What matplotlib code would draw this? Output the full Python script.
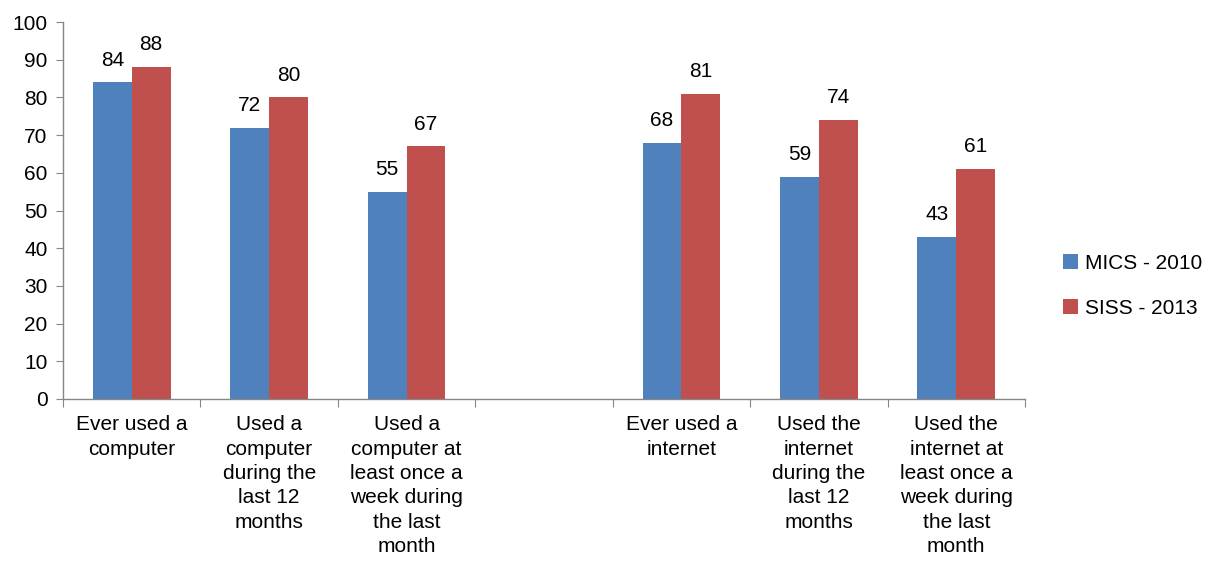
import matplotlib
matplotlib.use("Agg")
import matplotlib.pyplot as plt
import numpy as np
from matplotlib.patches import Patch

plt.rcParams['font.family'] = ['Liberation Sans', 'DejaVu Sans']

categories = [
    "Ever used a\ncomputer",
    "Used a\ncomputer\nduring the\nlast 12\nmonths",
    "Used a\ncomputer at\nleast once a\nweek during\nthe last\nmonth",
    "",
    "Ever used a\ninternet",
    "Used the\ninternet\nduring the\nlast 12\nmonths",
    "Used the\ninternet at\nleast once a\nweek during\nthe last\nmonth",
]
mics_2010 = [84, 72, 55, None, 68, 59, 43]
siss_2013 = [88, 80, 67, None, 81, 74, 61]
series_names = ["MICS - 2010", "SISS - 2013"]
colors = ["#4F81BD", "#C0504D"]

FS = 15

fig = plt.figure(figsize=(12.13, 5.62), dpi=100)
ax = fig.add_axes([63 / 1213, 1 - 399 / 562, (1025 - 63) / 1213, (399 - 22) / 562])

n = len(categories)
x = np.arange(n) + 0.5
w = 0.283
for i, (vals, col) in enumerate(zip([mics_2010, siss_2013], colors)):
    offs = (i - 0.5) * w
    for xi, v in zip(x, vals):
        if v is None:
            continue
        ax.bar(xi + offs, v, width=w, color=col, edgecolor='none')
        ax.text(xi + offs, v + 3.4, f"{v}", ha='center', va='bottom', fontsize=FS)

ax.set_xlim(0, n)
ax.set_ylim(0, 100)
ax.set_yticks(np.arange(0, 101, 10))
ax.tick_params(axis='y', labelsize=FS, length=5, color='#868686', pad=6)

# category boundary ticks
ax.set_xticks(np.arange(0, n + 1))
ax.set_xticklabels([])
ax.tick_params(axis='x', length=6, color='#868686', direction='out')
for xi, lab in zip(x, categories):
    ax.text(xi, -4.3, lab, ha='center', va='top', fontsize=FS, linespacing=1.36,
            transform=ax.transData)

for s in ['top', 'right']:
    ax.spines[s].set_visible(False)
for s in ['left', 'bottom']:
    ax.spines[s].set_color('#868686')
    ax.spines[s].set_linewidth(1.0)

handles = [Patch(facecolor=c, edgecolor='none') for c in colors]
fig.legend(handles, series_names, loc='center left', bbox_to_anchor=(1044 / 1213, 1 - 286 / 562),
           frameon=False, fontsize=FS, handlelength=0.75, handleheight=0.75,
           handletextpad=0.3, labelspacing=1.25)

fig.savefig("out.png", dpi=100)
